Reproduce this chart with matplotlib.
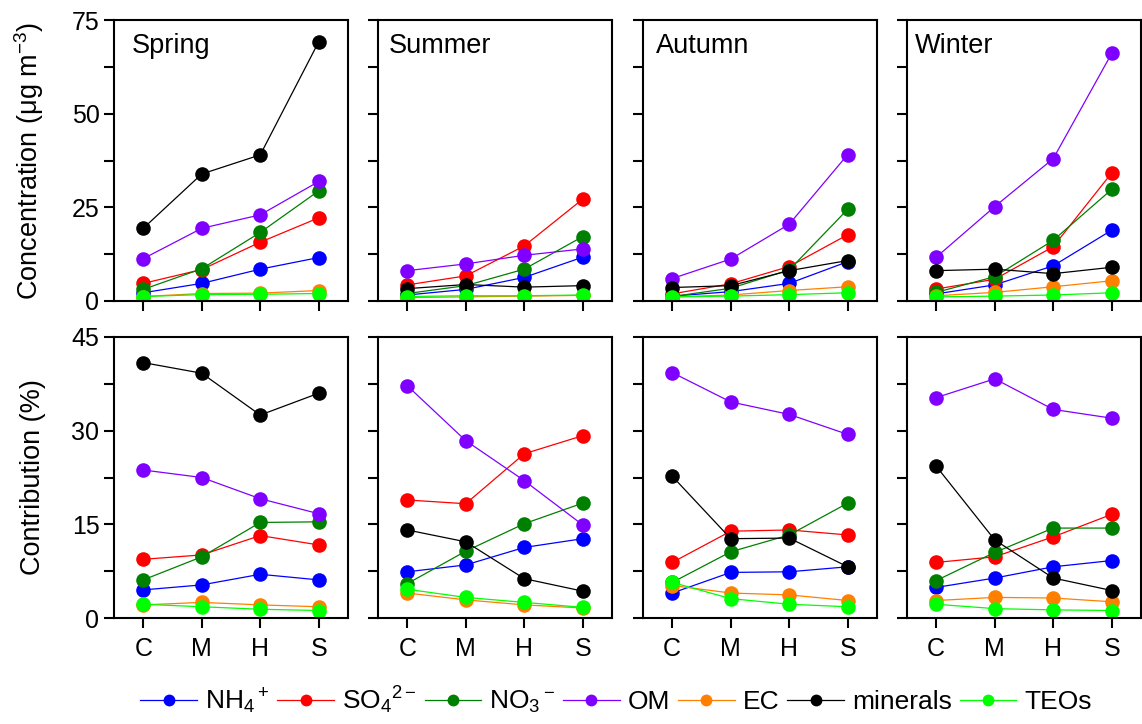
import matplotlib
matplotlib.use("Agg")
import matplotlib.pyplot as plt
from matplotlib.ticker import MultipleLocator
from matplotlib.lines import Line2D

plt.rcParams['font.family'] = ['Liberation Sans', 'DejaVu Sans']
plt.rcParams['mathtext.fontset'] = 'custom'
plt.rcParams['mathtext.rm'] = 'Liberation Sans'
plt.rcParams['mathtext.it'] = 'Liberation Sans:italic'

sites = ["C", "M", "H", "S"]
seasons = ["Spring", "Summer", "Autumn", "Winter"]
species = ["NH$_4$$^+$", "SO$_4$$^{2-}$", "NO$_3$$^-$", "OM", "EC", "minerals", "TEOs"]
colors = ["#0000ff", "#ff0000", "#008000", "#8000ff", "#ff8000", "#000000", "#00ff00"]

# concentrations (ug m-3), per season, per species (C, M, H, S)
conc_spring = [[2.2, 4.7, 8.5, 11.6], [4.7, 8.4, 15.7, 22.2], [3.1, 8.6, 18.3, 29.4],
               [11.3, 19.4, 23.0, 31.9], [1.2, 2.0, 2.1, 2.8], [19.4, 33.9, 39.0, 69.2],
               [1.2, 1.7, 1.8, 2.0]]
conc_summer = [[1.6, 3.1, 6.3, 11.7], [4.3, 6.7, 14.7, 27.2], [2.0, 4.1, 8.5, 17.2],
               [8.1, 9.9, 12.2, 13.9], [0.9, 1.1, 1.3, 1.5], [3.3, 4.4, 3.7, 4.1],
               [1.2, 1.4, 1.4, 1.6]]
conc_autumn = [[1.3, 2.5, 4.7, 10.5], [1.9, 4.6, 9.2, 17.7], [1.2, 3.4, 8.3, 24.5],
               [6.0, 11.2, 20.5, 39.1], [1.1, 1.6, 2.8, 3.8], [3.6, 4.1, 8.1, 10.8],
               [1.1, 1.3, 1.7, 2.2]]
conc_winter = [[1.9, 4.3, 9.4, 18.9], [3.2, 5.8, 14.5, 34.2], [2.3, 6.5, 16.2, 29.8],
               [11.7, 25.2, 38.0, 66.1], [1.4, 2.3, 3.8, 5.4], [8.1, 8.5, 7.3, 9.0],
               [1.1, 1.3, 1.6, 2.2]]

# contributions (%)
contr_spring = [[4.5, 5.3, 7.0, 6.1], [9.4, 10.1, 13.2, 11.7], [6.1, 9.8, 15.3, 15.4],
                [23.7, 22.5, 19.1, 16.7], [2.1, 2.5, 2.1, 1.8], [40.9, 39.2, 32.5, 36.0],
                [2.2, 1.8, 1.4, 1.2]]
contr_summer = [[7.4, 8.5, 11.3, 12.7], [18.9, 18.3, 26.3, 29.2], [5.5, 10.7, 15.1, 18.4],
                [37.2, 28.4, 22.0, 14.9], [4.0, 2.9, 2.1, 1.6], [14.1, 12.2, 6.3, 4.3],
                [4.6, 3.3, 2.5, 1.7]]
contr_autumn = [[4.0, 7.3, 7.4, 8.2], [8.9, 13.9, 14.1, 13.3], [5.7, 10.6, 13.3, 18.4],
                [39.3, 34.6, 32.6, 29.4], [5.2, 4.0, 3.7, 2.8], [22.7, 12.7, 12.8, 8.2],
                [5.7, 3.1, 2.2, 1.8]]
contr_winter = [[4.9, 6.4, 8.2, 9.2], [8.9, 9.8, 13.0, 16.6], [6.0, 10.5, 14.4, 14.4],
                [35.3, 38.3, 33.4, 32.0], [2.8, 3.3, 3.2, 2.6], [24.3, 12.5, 6.4, 4.4],
                [2.2, 1.5, 1.3, 1.2]]

conc = [conc_spring, conc_summer, conc_autumn, conc_winter]
contr = [contr_spring, contr_summer, contr_autumn, contr_winter]

fig = plt.figure(figsize=(11.42, 7.24), dpi=100)
W, H = 1142, 724
lefts = [114, 378, 643, 907]
aw, ah = 234, 281
top_bottom, bot_bottom = 301, 618
season_off = [18, 11, 13, 8]  # px from left spine

x = list(range(len(sites)))
for j in range(4):
    for row, data in enumerate([conc, contr]):
        yb = top_bottom if row == 0 else bot_bottom
        ax = fig.add_axes([lefts[j] / W, (H - yb) / H, aw / W, ah / H])
        for k in range(len(species)):
            ax.plot(x, data[j][k], color=colors[k], lw=0.9, marker='o', ms=10.5,
                    mec=colors[k], mew=0, zorder=2 + k * 0.01)
        ax.set_xlim(-0.5, 3.5)
        ax.set_xticks(x)
        if row == 0:
            ax.set_ylim(0, 75)
            ax.yaxis.set_major_locator(MultipleLocator(25))
            ax.yaxis.set_minor_locator(MultipleLocator(12.5))
            ax.set_xticklabels([])
            ax.text(season_off[j] / aw, 0.955, seasons[j], transform=ax.transAxes,
                    ha='left', va='top', fontsize=19.5)
        else:
            ax.set_ylim(0, 45)
            ax.yaxis.set_major_locator(MultipleLocator(15))
            ax.yaxis.set_minor_locator(MultipleLocator(7.5))
            ax.set_xticklabels(sites)
        for s in ax.spines.values():
            s.set_linewidth(1.5)
        ax.tick_params(which='both', direction='out', length=7.5, width=1.5,
                       labelsize=18, pad=3)
        ax.tick_params(axis='x', pad=6)
        if j > 0:
            ax.set_yticklabels([])
        else:
            label = "Concentration (μg m$^{-3}$)" if row == 0 else "Contribution (%)"
            ax.set_ylabel(label, fontsize=19.5)
            ax.yaxis.set_label_coords(-0.29, 0.5)

handles = [Line2D([], [], color=c, lw=0.9, marker='o', ms=8.5, mew=0) for c in colors]
fig.legend(handles, species, loc='center', bbox_to_anchor=(616 / W, 1 - 700 / H),
           ncol=7, frameon=False, fontsize=19, handlelength=2.15, handletextpad=0.3,
           columnspacing=0.3)

fig.savefig("out.png", dpi=100)
